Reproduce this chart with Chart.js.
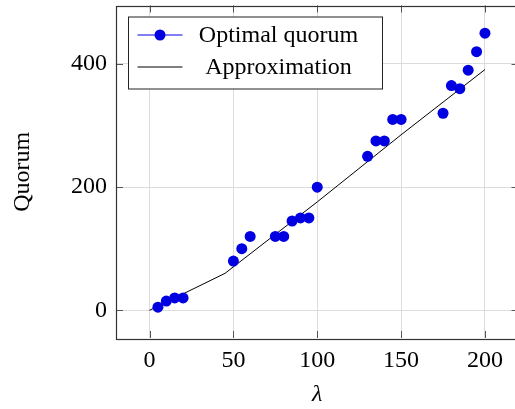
<!DOCTYPE html>
<html>
<head>
<meta charset="utf-8">
<script src="https://cdn.jsdelivr.net/npm/chart.js@4"></script>
<style>
html,body{margin:0;padding:0;overflow:hidden;background:#fff;}
#wrap{width:524px;height:409px;}
</style>
</head>
<body>
<div id="wrap"><canvas id="c" width="524" height="409"></canvas></div>
<script>
const quorumX = [5,10,15,20,50,55,60,75,80,85,90,95,100,130,135,140,145,150,175,180,185,190,195,200];
const quorumY = [5,15,20,20,80,100,120,120,120,145,150,150,200,250,275,275,310,310,320,365,360,390,420,450];
const approxX = [0,45,100,150,200];
const approxY = [0,60,176,285,391];
const xTicks = [0,50,100,150,200];
const yTicks = [0,200,400];
const seriesNames = ['Optimal quorum','Approximation'];

const FONT = "'Liberation Serif', 'Times New Roman', serif";
const BLUE = 'rgb(0,0,225)';

const boxPlugin = {
  id: 'box',
  beforeDatasetsDraw(chart) {
    const {ctx, chartArea: a, scales} = chart;
    ctx.save();
    ctx.strokeStyle = '#555';
    ctx.lineWidth = 1;
    const L = 7;
    ctx.beginPath();
    xTicks.forEach(v => {
      const px = Math.round(scales.x.getPixelForValue(v)) + 0.5;
      ctx.moveTo(px, a.bottom); ctx.lineTo(px, a.bottom - L);
      ctx.moveTo(px, a.top); ctx.lineTo(px, a.top + L);
    });
    yTicks.forEach(v => {
      const py = Math.round(scales.y.getPixelForValue(v)) + 0.5;
      ctx.moveTo(a.left, py); ctx.lineTo(a.left + L, py);
      ctx.moveTo(a.right, py); ctx.lineTo(a.right - L, py);
    });
    ctx.stroke();
    ctx.restore();
  },
  afterDatasetsDraw(chart) {
    const {ctx, chartArea: a} = chart;
    ctx.save();
    ctx.strokeStyle = '#333';
    ctx.lineWidth = 1.2;
    ctx.strokeRect(Math.round(a.left)+0.5, Math.round(a.top)+0.5, Math.round(a.right-a.left), Math.round(a.bottom-a.top));
    // legend
    const lx = a.left + 12.5, ly = a.top + 11.5, lw = 254, lh = 72;
    ctx.fillStyle = '#fff';
    ctx.fillRect(lx, ly, lw, lh);
    ctx.strokeStyle = '#222';
    ctx.lineWidth = 1;
    ctx.strokeRect(lx, ly, lw, lh);
    const ds = chart.data.datasets;
    const rows = [ly + 18, ly + 50];
    ds.forEach((d, i) => {
      const y = rows[i];
      ctx.strokeStyle = d.borderColor;
      ctx.lineWidth = 1;
      ctx.beginPath();
      ctx.moveTo(lx + 9, y); ctx.lineTo(lx + 54, y);
      ctx.stroke();
      if (d.pointRadius > 0) {
        ctx.fillStyle = d.backgroundColor;
        ctx.beginPath();
        ctx.arc(lx + 31.5, y, d.pointRadius, 0, Math.PI*2);
        ctx.fill();
      }
      ctx.fillStyle = '#000';
      ctx.font = '24px ' + FONT;
      ctx.textAlign = 'center';
      ctx.textBaseline = 'middle';
      ctx.fillText(d.label, lx + 150, y + 1);
    });
    ctx.restore();
  }
};

new Chart(document.getElementById('c'), {
  type: 'scatter',
  data: {
    datasets: [
      {
        label: seriesNames[0],
        data: quorumX.map((x,i)=>({x, y: quorumY[i]})),
        showLine: false,
        backgroundColor: BLUE,
        borderColor: BLUE,
        pointRadius: 5.5,
        pointBorderWidth: 0,
        order: 1
      },
      {
        label: seriesNames[1],
        data: approxX.map((x,i)=>({x, y: approxY[i]})),
        showLine: true,
        borderColor: '#000',
        backgroundColor: '#000',
        borderWidth: 1,
        pointRadius: 0,
        tension: 0,
        order: 2
      }
    ]
  },
  options: {
    responsive: false,
    animation: false,
    events: [],
    layout: {padding: {top: 4, left: 0, right: 2.5, bottom: 0}},
    plugins: {legend: {display: false}, tooltip: {enabled: false}},
    scales: {
      x: {
        type: 'linear', min: -20, max: 220,
        afterBuildTicks(s){ s.ticks = xTicks.map(v=>({value:v})); },
        afterFit(s){ s.height = 71; s.paddingLeft = 0; s.paddingRight = 0; },
        grid: {color: '#dcdcdc', lineWidth: 1, drawTicks: false},
        border: {display: false},
        ticks: {color: '#000', padding: 8, font: {family: FONT, size: 24}},
        title: {display: true, text: 'λ', color: '#000', padding: {top: 0, bottom: 0}, font: {family: FONT, size: 24, style: 'italic'}}
      },
      y: {
        type: 'linear', min: -45, max: 495,
        afterBuildTicks(s){ s.ticks = yTicks.map(v=>({value:v})); },
        afterFit(s){ s.width = 116; s.paddingTop = 0; s.paddingBottom = 0; },
        grid: {color: '#dcdcdc', lineWidth: 1, drawTicks: false},
        border: {display: false},
        ticks: {color: '#000', padding: 9, font: {family: FONT, size: 24}},
        title: {display: true, text: 'Quorum', color: '#000', padding: {top: 8, bottom: 0}, font: {family: FONT, size: 24}}
      }
    }
  },
  plugins: [boxPlugin]
});
</script>
</body>
</html>
